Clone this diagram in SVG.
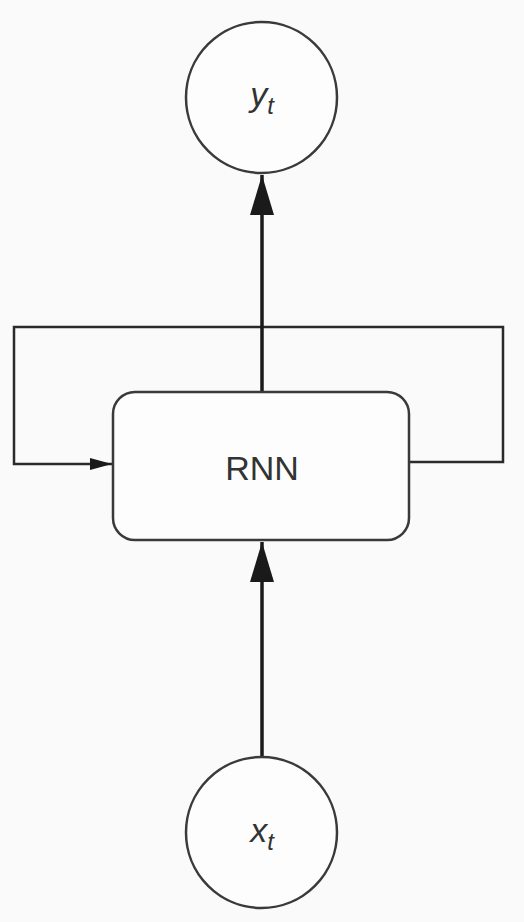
<svg xmlns="http://www.w3.org/2000/svg" width="524" height="922" viewBox="0 0 524 922">
<style>
.ln{fill:none;stroke:#2a2a2a;stroke-width:2.5}
.bold{fill:none;stroke:#1a1a1a;stroke-width:3.5}
.nd{fill:#fdfdfd;stroke:#3a3a3a;stroke-width:2.5}
.lbl{font-family:"Liberation Sans",Arial,sans-serif;fill:#333}
</style>
<defs>
<marker id="big" markerUnits="userSpaceOnUse" viewBox="0 0 40 24" refX="40" refY="12" markerWidth="40" markerHeight="24" orient="auto"><path d="M0,0 L40,12 L0,24 Z" fill="#1a1a1a"/></marker>
<marker id="small" markerUnits="userSpaceOnUse" viewBox="0 0 22 12" refX="22" refY="6" markerWidth="22" markerHeight="12" orient="auto"><path d="M0,0 L22,6 L0,12 Z" fill="#1a1a1a"/></marker>
</defs>
<rect width="524" height="922" fill="#fafafa"/>
<g id="connectors">
<path class="ln" d="M409,462 H503 V327 H14 V464 H112" marker-end="url(#small)"/>
<path class="bold" d="M262,393 V175" marker-end="url(#big)"/>
<path class="bold" d="M262,756 V542" marker-end="url(#big)"/>
</g>
<g id="rnn">
<rect class="nd" x="113" y="392" width="296" height="148" rx="22"/>
<text class="lbl" x="262" y="480" font-size="34" text-anchor="middle">RNN</text>
</g>
<g id="yt">
<circle class="nd" cx="261.5" cy="97.5" r="75.5"/>
<text class="lbl" x="262" y="106" font-size="34" font-style="italic" text-anchor="middle">y<tspan font-size="24" dy="8">t</tspan></text>
</g>
<g id="xt">
<circle class="nd" cx="261.5" cy="832.5" r="75.5"/>
<text class="lbl" x="262" y="842" font-size="34" font-style="italic" text-anchor="middle">x<tspan font-size="24" dy="8">t</tspan></text>
</g>
</svg>
